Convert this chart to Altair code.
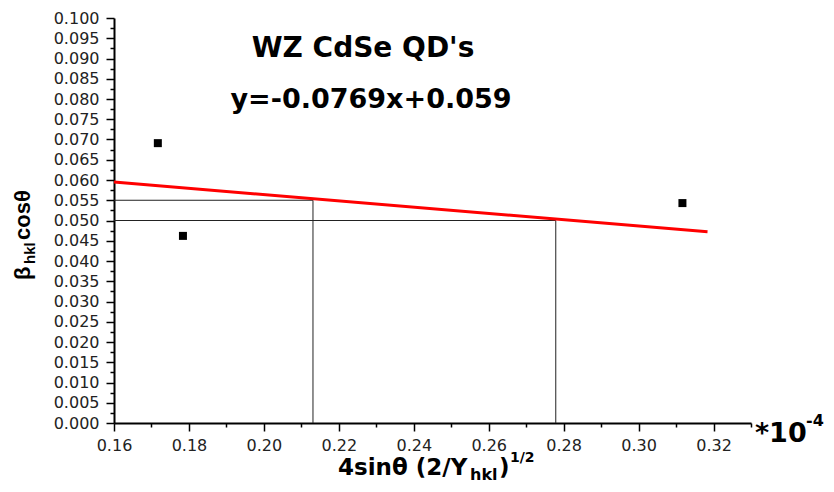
import altair as alt
import pandas as pd

# ---- data ----
pt_x = [0.1717, 0.1784, 0.3117]
pt_y = [0.0691, 0.0462, 0.0543]

fit_x = [0.160, 0.3184]
fit_y = [0.0595, 0.0472]

# guide segments (drop lines from the fit line to the axes)
seg_x = [0.160, 0.2131, 0.160, 0.2779]
seg_x2 = [0.2131, 0.2131, 0.2779, 0.2779]
seg_y = [0.055, 0.055, 0.050, 0.050]
seg_y2 = [0.055, 0.000, 0.050, 0.000]

x_ticks = [round(0.16 + 0.01 * i, 2) for i in range(18)]
y_ticks = [round(0.0025 * i, 4) for i in range(41)]

title_text = "WZ CdSe QD's"
eq_text = "y=-0.0769x+0.059"

pts = pd.DataFrame({"x": pt_x, "y": pt_y})
fit = pd.DataFrame({"x": fit_x, "y": fit_y})
seg = pd.DataFrame({"x": seg_x, "x2": seg_x2, "y": seg_y, "y2": seg_y2})

FONT = "DejaVu Sans"
FONT2 = "Liberation Sans"

x_major = "abs(round(datum.value*100) % 2) < 0.5"
y_major = "abs(round(datum.value*10000) % 50) < 1"

x_axis = alt.Axis(
    values=x_ticks, title=None, grid=False,
    labelExpr=f"{x_major} ? format(datum.value, '.2f') : ''",
    tickSize={"condition": {"test": x_major, "value": 8}, "value": 4},
    labelFont=FONT, labelFontSize=16, labelColor="#222",
    labelPadding=6, labelFlush=False, labelOverlap=False,
    domainColor="black", domainWidth=2, tickColor="black", tickWidth=1.5,
)
y_axis = alt.Axis(
    values=y_ticks, title=None, grid=False,
    labelExpr=f"{y_major} ? format(datum.value, '.3f') : ''",
    tickSize={"condition": {"test": y_major, "value": 8}, "value": 4},
    labelFont=FONT, labelFontSize=16, labelColor="#222",
    labelPadding=7, labelFlush=False, labelOverlap=False,
    domainColor="black", domainWidth=2, tickColor="black", tickWidth=1.5,
)

X = alt.X("x:Q", scale=alt.Scale(domain=[0.16, 0.33], nice=False, zero=False), axis=x_axis)
Y = alt.Y("y:Q", scale=alt.Scale(domain=[0.0, 0.1], nice=False, zero=False), axis=y_axis)

points = alt.Chart(pts).mark_square(size=64, color="black", opacity=1).encode(x=X, y=Y)
line = alt.Chart(fit).mark_line(color="#ff0000", strokeWidth=3).encode(x=X, y=Y)
guides = alt.Chart(seg).mark_rule(color="#222", strokeWidth=1).encode(
    x=X, y=Y, x2="x2:Q", y2="y2:Q"
)

one = alt.Data(values=[{}])


def txt(text, x, y, size, font=FONT, bold=True, align="left", angle=0):
    kw = dict(text=text, font=font, fontSize=size, align=align, baseline="alphabetic",
              color="black", fontWeight="bold" if bold else "normal")
    if angle:
        kw["angle"] = angle
    return alt.Chart(one).mark_text(**kw).encode(x=alt.value(x), y=alt.value(y))


texts = [
    txt(title_text, 249, 39, 28, align="center"),
    txt(eq_text, 257, 90, 27, align="center"),
    # x-axis title pieces
    txt("4sin\u03b8 (2/Y", 224, 457, 23),
    txt("hkl", 356, 462, 16),
    txt(")", 385, 457, 23),
    txt("1/2", 396, 444, 14),
    # *10^-4 multiplier
    txt("*10", 641, 424, 27),
    txt("-4", 692, 408, 16),
    # y-axis title pieces (rotated)
    txt("\u03b2", -84, 262, 22, font=FONT2, angle=270),
    txt("hkl", -79, 246, 15, font=FONT2, angle=270),
    txt("cos\u03b8", -84, 222, 22, font=FONT2, angle=270),
]

chart = alt.layer(guides, line, points, *texts).properties(
    width=637, height=405,
    padding={"left": 106, "top": 10, "right": 75, "bottom": 61},
    autosize=alt.AutoSizeParams(type="none"),
    background="white",
).configure_view(strokeWidth=0)

chart.save("out.html", embed_options={"renderer": "svg", "actions": False})
